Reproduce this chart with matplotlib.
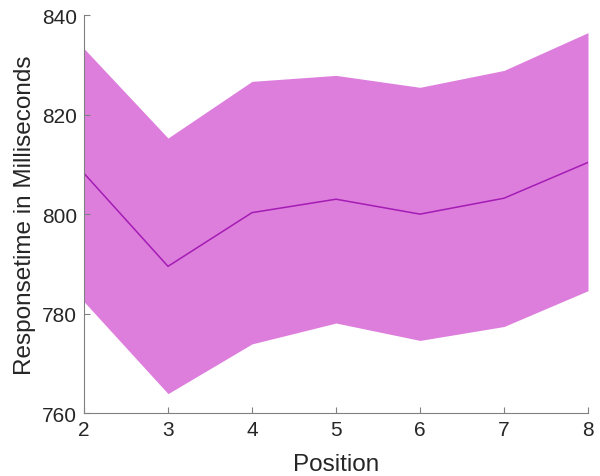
import matplotlib
matplotlib.use('Agg')
import matplotlib.pyplot as plt

plt.rcParams['font.family'] = ['Liberation Sans', 'DejaVu Sans']

# response time per position: mean and band limits
position = [2, 3, 4, 5, 6, 7, 8]
mean_rt = [808.2, 789.5, 800.3, 803.0, 800.0, 803.2, 810.4]
upper_rt = [833.3, 815.3, 826.7, 827.9, 825.5, 828.9, 836.5]
lower_rt = [782.4, 763.9, 773.9, 778.1, 774.6, 777.4, 784.6]

fig = plt.figure(figsize=(6, 4.77), dpi=100)
ax = fig.add_axes([0.14, 0.132, 0.84, 0.834])

ax.fill_between(position, lower_rt, upper_rt, color='#dd7edd', linewidth=0)
ax.plot(position, mean_rt, color='#a41cb4', linewidth=1.1)

ax.set_xlim(2, 8)
ax.set_ylim(760, 840)
ax.set_xticks(position)
ax.set_yticks([760, 780, 800, 820, 840])

for side in ['top', 'right']:
    ax.spines[side].set_visible(False)
for side in ['left', 'bottom']:
    ax.spines[side].set_color('#808080')
    ax.spines[side].set_linewidth(0.8)
ax.tick_params(direction='in', length=4, width=0.8, color='#808080',
               labelsize=15, labelcolor='#262626', pad=5)

ax.set_xlabel('Position', fontsize=17.5, color='#262626', labelpad=10)
ax.set_ylabel('Responsetime in Milliseconds', fontsize=17.5, color='#262626', labelpad=4)

fig.savefig('out.png', dpi=100)
